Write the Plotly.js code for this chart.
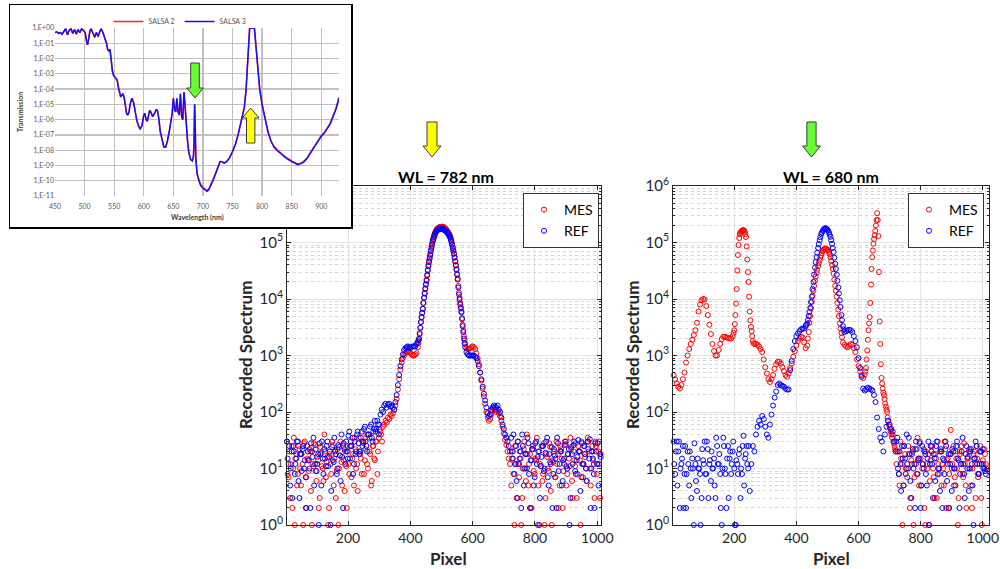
<!DOCTYPE html>
<html><head><meta charset="utf-8">
<script src="https://cdn.plot.ly/plotly-3.0.1.min.js"></script>
<style>html,body{margin:0;padding:0;background:#fff}#chart{width:1000px;height:569px}</style>
</head><body><div id="chart"></div>
<script>
// ---------------- DATA ----------------
// Inset: transmission (log10 of T) vs wavelength (nm)
var wavelength = [450,453,456,459,462,465,468,471,474,477, 480,483,486,489,492,495,498,501,503,505,
 507,509,511,514,517,520,523,526,528,531, 534,537,539,541,543,545,547,549,551,553,
 555,557,559,561,563,565,567,569,571,573, 575,577,580,583,585,588,591,594,597,600,
 602,604,606,608,610,612,615,618,621,623, 625,628,631,634,637,640,643,646,648,650,
 652,654,656,658,660,662,664,666,668,670, 672,674,676,679,682,684,685,686,687,688,
 690,693,696,700,704,707,710,714,718,722, 726,729,732,736,740,745,750,755,760,765,
 770,773,775,777,779,787,789,792,796,800, 805,810,815,820,825,830,835,840,845,850,
 855,860,865,870,875,880,885,890,895,900, 905,910,915,920,925,930];
var salsa3Log10 = [-0.3,-0.25,-0.35,-0.3,-0.4,-0.2,-0.05,-0.45,-0.15,-0.05,
 -0.35,-0.1,-0.4,-0.1,-0.3,-0.05,-0.15,-0.3,-0.8,-1.1,
 -0.7,-0.2,-0.05,-0.4,-0.6,-0.3,-0.55,-0.2,-0.05,-0.3,
 -0.6,-1.0,-1.4,-1.5,-1.4,-2.2,-2.8,-3.1,-3.2,-3.3,
 -3.4,-3.9,-4.3,-4.5,-4.4,-4.3,-4.6,-5.2,-5.6,-5.7,
 -5.5,-5.0,-4.6,-4.9,-5.4,-6.0,-6.4,-6.6,-6.4,-5.7,
 -5.6,-6.0,-6.1,-5.8,-5.4,-5.5,-5.8,-5.6,-5.35,-5.4,
 -5.8,-6.8,-7.4,-7.8,-7.8,-7.4,-6.8,-6.2,-5.6,-4.6,
 -5.3,-5.5,-4.6,-5.5,-5.7,-4.3,-5.8,-6.0,-4.2,-5.2,
 -6.5,-7.4,-8.1,-8.6,-8.7,-8.4,-7.5,-5.0,-6.5,-8.5,
 -9.5,-10.0,-10.3,-10.5,-10.6,-10.7,-10.6,-10.3,-9.9,-9.5,
 -9.0,-8.75,-8.75,-8.85,-8.75,-8.5,-8.1,-7.6,-6.9,-6.1,
 -5.2,-4.0,-2.5,-1.0,0,0,-1.0,-2.5,-4.0,-5.0,
 -6.0,-6.8,-7.4,-7.8,-8.0,-8.2,-8.35,-8.5,-8.65,-8.75,
 -8.85,-8.95,-8.9,-8.8,-8.6,-8.3,-8.0,-7.7,-7.4,-7.1,
 -6.9,-6.6,-6.3,-5.8,-5.3,-4.6];
var salsa2Log10 = [-0.3,-0.25,-0.35,-0.3,-0.4,-0.2,-0.05,-0.45,-0.15,-0.05,
 -0.35,-0.1,-0.4,-0.1,-0.3,-0.05,-0.15,-0.3,-0.8,-1.1,
 -0.7,-0.2,-0.05,-0.4,-0.6,-0.3,-0.55,-0.2,-0.05,-0.3,
 -0.6,-1.0,-1.4,-1.5,-1.4,-2.2,-2.8,-3.1,-3.2,-3.3,
 -3.4,-3.8,-4.3,-4.5,-4.4,-4.3,-4.6,-5.2,-5.6,-5.7,
 -5.5,-5.0,-4.6,-4.9,-5.4,-6.0,-6.4,-6.6,-6.4,-5.7,
 -5.6,-6.0,-6.1,-5.8,-5.4,-5.5,-5.8,-5.6,-5.35,-5.4,
 -5.8,-6.8,-7.4,-7.8,-7.8,-7.4,-6.8,-6.2,-5.6,-4.6,
 -5.3,-5.5,-4.6,-5.5,-5.7,-4.3,-5.8,-6.0,-4.2,-5.2,
 -6.5,-7.4,-8.1,-8.6,-8.7,-8.4,-7.5,-5.0,-6.5,-8.5,
 -9.5,-10.0,-10.25,-10.45,-10.55,-10.65,-10.55,-10.25,-9.85,-9.45,
 -9.0,-8.75,-8.75,-8.85,-8.75,-8.5,-8.1,-7.6,-6.9,-6.1,
 -5.2,-4.0,-2.5,-1.0,0,0,-1.0,-2.5,-4.0,-5.0,
 -6.0,-6.8,-7.4,-7.75,-7.95,-8.15,-8.3,-8.45,-8.6,-8.7,
 -8.8,-8.9,-8.85,-8.75,-8.55,-8.25,-7.95,-7.65,-7.35,-7.05,
 -6.85,-6.55,-6.25,-5.75,-5.25,-4.55];
var insetYTickVals = [1,1e-1,1e-2,1e-3,1e-4,1e-5,1e-6,1e-7,1e-8,1e-9,1e-10,1e-11];
var insetYTickText = ['1,E+00','1,E-01','1,E-02','1,E-03','1,E-04','1,E-05','1,E-06','1,E-07','1,E-08','1,E-09','1,E-10','1,E-11'];
var insetXTickVals = [450,500,550,600,650,700,750,800,850,900];

// WL = 782 nm  (each segment: first pixel, pixel step, counts)
var mes782NoiseLeft = [30,7,3,25,10,1,18,8,22,5,12,28,2,15,9,20,1,11,26,6,14,3,19,10,40,7,16,2,12,30,5,21,9,1,17,13,25,4,11,20,8,30,15,5,22,12,35,18,8,28,14,40,10,20,5,25,15,30,8,35,45,30];
var mes782NoiseLeft2 = [8,20,12,2,35,15,5,25,10,18,1,30,7,14,22,4,12,28,9,16,2,24,11,6,20,13,1,18,8,26,15,3,22,10,30,5,14,20,2,12,25,7,18,35,10,4,20,15,30,8,22,12,40,18,6,25,14,30,20,50,40];
var mes782Peak = [55,60,70,65,80,75,90,85,95,110,
 130,170,250,380,560,750,900,1000,1100,1150,
 1200,1150,1100,1050,1000,1000,1050,1100,1400,2000,
 3100,4700,6700,10500,15500,22000,33000,47000,63000,85000,
 110000,132000,152000,168000,178000,185000,188000,190000,190000,186000,
 178000,168000,156000,143000,128000,105000,82000,64000,47000,34000,
 23000,13000,8500,6000,3500,2200,1600,1350,1300,1300,
 1350,1400,1450,1400,1300,1100,900,700,500,360,
 260,190,140,100,80,70,75,90,105,115,
 110,100,105,95,85,70,55,42,32,26,
 20,15,12];
var mes782PeakMid = [1650,2500,3900,5700,8500,12800,18500,27000,40000,55000,
 74000,97000,121000,142000,160000,173000,182000,187000,189000,190000,
 188000,182000,173000,162000,150000,136000,117000,93000,73000,55000,
 40000,28000,17000,10500,7200,4600,2800,1850];
var mes782NoiseRight = [5,20,1,12,30,7,15,3,22,10,40,5,18,2,25,8,14,1,20,11,6,28,3,16,9,24,1,13,7,30,18,5,22,2,12,27,8,15,35,6,20,11,3,25,14,30,7,18,10,35,20,5,25,12,30,8,20,3,15];
var mes782NoiseRight2 = [15,8,25,3,12,20,1,10,30,6,18,12,2,22,9,15,35,5,12,25,8,1,18,10,28,4,14,20,7,12,2,25,15,9,30,5,18,11,22,3,14,28,8,20,1,12,25,16,6,30,10,20,14,3,25,12,30,18];
var ref782NoiseLeft = [30,12,5,20,25,8,15,30,3,18,22,10,7,25,14,2,20,35,12,9,18,28,5,15,22,11,30,16,1,24,13,20,8,26,17,40,2,22,30,15,45,25,35,12,18,40,28,20,45,30,55,25,40,35,60,30,50,45,70,40];
var ref782NoiseLeft2 = [15,25,10,3,20,12,30,6,18,9,25,14,2,20,10,28,16,5,22,12,1,18,30,8,15,25,11,20,4,14,35,18,10,24,6,16,28,12,20,38,15,25,8,30,20,45,18,35,25,50,30,20,40,55,35,45,70,50,60];
var ref782Peak = [60,90,110,100,130,140,120,135,140,125,
 130,120,110,150,200,300,450,650,850,1050,
 1250,1350,1400,1450,1400,1350,1400,1450,1450,1450,
 1600,1750,1950,3100,4800,6700,10500,15000,21000,32000,
 45000,60000,80000,105000,125000,145000,160000,168000,172000,175000,
 175000,172000,168000,162000,155000,145000,135000,122000,102000,80000,
 63000,46000,33000,22000,12000,8000,5800,3300,2000,1400,
 1150,1050,1000,1000,1000,1000,1000,950,900,800,
 650,500,380,280,210,160,120,95,85,90,
 110,120,130,125,120,130,110,100,80,60,
 50,40,35,30,25,20];
var ref782PeakMid = [1850,2400,3900,5700,8500,12500,18000,26000,38000,52000,
 70000,92000,115000,135000,153000,164000,170000,174000,175000,174000,
 170000,165000,158000,150000,140000,128000,112000,91000,71000,54000,
 39000,27000,16000,9800,6800,4400,2600,1650];
var ref782NoiseRight = [35,15,8,25,3,12,20,40,5,18,10,28,2,14,22,7,30,16,1,11,25,9,19,35,5,13,24,8,17,2,28,12,20,6,15,30,10,22,3,18,26,9,14,32,20,7,12,25,10,30,15,2,20,8,28,12,5,18,10];
var ref782NoiseRight2 = [20,40,12,6,30,15,2,25,10,18,35,8,14,22,5,28,12,20,3,16,25,10,30,7,18,12,2,22,15,35,9,20,5,14,26,11,18,1,24,12,30,8,16,20,4,28,12,18,6,22,33,10,15,2,20,28,12,16];

// WL = 680 nm
var mes680A = [450,380,320,280,260,300,380,500,750,1000,1300,1600,1900,2300,2800,3800,6000,8000,9500,10000,9800,7500,5200,3500,2400,1600,1200,1000,1000,1250,1600,1950,2150,2150,2100,2050,2000,2000,2200];
var mes680B = [2500,2800,3600,5200,8300,15000,32000,60000,90000,120000,140000,150000,155000,158000,162000,165000,165000,162000,155000,140000,125000,85000,50000,30000,20000,11000,6000,4200,3200,2700,2200,1800,1650];
var mes680C = [1600,1600,1550,1450,1300,1150,850,620,480,380,
 340,380,450,580,700,770,780,720,620,530,
 450,420,480,600,720,950,1200,1500,1800,2000,
 2150,2100,1700,1350,1500,2600,5000,9000,14000,21000,
 29000,38000,48000,60000,70000,77000,78000,75000,68000,55000,
 40000,28000,17000,11000,6500,3700,2500,1700,1550,1450,
 1400,1500,1600,1550,1350,1150,850,650,520,450,
 400,460];
var mes680PeakMid = [2000,3800,6800,11500,17000,25000,33000,43000,54000,65000,74000,78000,77000,72000,62000,47000,34000,22000,14000,8500,5000,3000,2100];
var mes680D = [520,600,850,1230,1900,2800,3700,4800,8500,18000,34000,55000,72000,95000,115000,135000,160000,200000,250000,330000,250000,130000,30000,4000,1600,700,400,320,260,220,200,170,140,125,110,100,80,70,60,55,50,45,40,35,40,30,28,25,22,20];
var mes680NoiseRight = [12,20,5,15,1,25,10,7,18,3,12,1,22,8,15,30,5,12,2,20,10,1,14,25,7,18,3,12,20,5,10,30,2,15,8,48,12,5,20,10,3,18,25,7,12,2,15,22,5,10,20,3,15,8,25,1,12,18,10];
var mes680NoiseRight2 = [20,8,30,12,5,18,10,25,2,14,20,7,12,35,5,15,10,22,1,12,18,6,25,10,3,15,30,8,20,12,5,22,14,2,18,10,25,7,15,1,20,12,8,28,5,15,20,10,2,18,12,25,7,20,3,14,22,12];
var ref680NoiseLeft = [30,8,30,20,2,12,25,8,2,20,5,10,15,1,12,4,10,8,3,14,30,8,22,12,6,10,15,3,25,12,8,1,35,10,2,25,15,8,20,10,1,12,18,3,8,38,15,25,10,4];
var ref680NoiseLeft2 = [12,20,5,30,10,15,2,25,8,12,20,3,10,28,6,15,10,1,22,12,8,30,3,14,20,10,5,35,12,18,2,10,25,8,15,3,20,12,30,1,14,8,22,10,25,5,18,12,25];
var ref680Peak = [12,25,20,40,55,70,60,85,75,55,
 40,35,60,90,130,180,230,300,320,300,
 290,280,260,250,250,550,800,1300,1800,2200,
 2450,2700,2900,3000,3000,3300,3700,5000,7000,11000,
 20000,36000,55000,80000,110000,140000,160000,175000,178000,170000,
 150000,126000,95000,68000,42000,27000,16000,9500,5200,3300,
 2600,2700,2800,2850,2800,2600,2200,1800,1400,900,
 600,420,260,240,250,270,260,250,240,200,
 150,80,50,35,30,20,40,55,70,60,
 50,45,30];
var ref680PeakMid = [3500,4200,5900,8800,15000,27000,45000,66000,94000,124000,150000,168000,178000,175000,161000,138000,110000,80000,54000,34000,21000,12500,7200,4200,2900];
var ref680NoiseRight = [20,35,8,12,25,5,15,40,10,18,3,22,12,30,8,15,2,25,10,18,5,30,12,20,3,15,25,8,10,22,2,14,30,6,18,12,4,20,10,25,15,2,12,35,8,18,10,4,20,12,1,15,25,8,12,20,22,10,8];
var ref680NoiseRight2 = [30,10,20,4,15,25,8,12,35,6,18,10,2,22,14,28,5,12,20,8,15,1,25,12,18,6,30,10,4,20,15,8,25,12,2,18,22,10,5,30,14,8,20,12,3,25,16,10,22,5,15,30,12,8,20,12,10,9];

var mainYTickVals = [1,10,100,1000,10000,100000,1000000];
var mainYTickText = ['10<sup>0</sup>','10<sup>1</sup>','10<sup>2</sup>','10<sup>3</sup>','10<sup>4</sup>','10<sup>5</sup>','10<sup>6</sup>'];
var mainXTickVals = [200,400,600,800,1000];

// ---------------- BUILD ----------------
function series(segs){
  var x=[],y=[];
  segs.forEach(function(s){ s[2].forEach(function(v,i){ x.push(s[0]+i*s[1]); y.push(v); }); });
  return {x:x,y:y};
}
var mes782 = series([[4,5,mes782NoiseLeft],[6,5,mes782NoiseLeft2],[312,4,mes782Peak],[426,4,mes782PeakMid],[724,5,mes782NoiseRight],[726,5,mes782NoiseRight2]]);
var ref782 = series([[4,5,ref782NoiseLeft],[6,5,ref782NoiseLeft2],[300,4,ref782Peak],[426,4,ref782PeakMid],[724,5,ref782NoiseRight],[726,5,ref782NoiseRight2]]);
var mes680 = series([[5,5,mes680A],[198,2,mes680B],[265,5,mes680C],[437,5,mes680PeakMid],[622,2,mes680D],[722,5,mes680NoiseRight],[725,5,mes680NoiseRight2]]);
var ref680 = series([[5,5,ref680NoiseLeft],[7,5,ref680NoiseLeft2],[255,5,ref680Peak],[432,5,ref680PeakMid],[720,5,ref680NoiseRight],[722,5,ref680NoiseRight2]]);
function pow10(a){ return a.map(function(v){ return Math.pow(10,v); }); }

var RED='#ff0000', BLUE='#0000ff';
function mk(c){ return {symbol:'circle-open', size:5, color:c, line:{width:1}}; }
var traces = [
  {x:mes782.x, y:mes782.y, type:'scatter', mode:'markers', name:'MES', marker:mk(RED), xaxis:'x', yaxis:'y', legend:'legend', hoverinfo:'skip', cliponaxis:false},
  {x:ref782.x, y:ref782.y, type:'scatter', mode:'markers', name:'REF', marker:mk(BLUE), xaxis:'x', yaxis:'y', legend:'legend', hoverinfo:'skip', cliponaxis:false},
  {x:mes680.x, y:mes680.y, type:'scatter', mode:'markers', name:'MES', marker:mk(RED), xaxis:'x2', yaxis:'y2', legend:'legend2', hoverinfo:'skip', cliponaxis:false},
  {x:ref680.x, y:ref680.y, type:'scatter', mode:'markers', name:'REF', marker:mk(BLUE), xaxis:'x2', yaxis:'y2', legend:'legend2', hoverinfo:'skip', cliponaxis:false},
  {x:[0.5], y:[0.5], type:'scatter', mode:'markers', marker:{opacity:0}, xaxis:'x3', yaxis:'y3', showlegend:false, hoverinfo:'skip'},
  {x:wavelength, y:pow10(salsa2Log10), type:'scatter', mode:'lines', name:'SALSA 2', line:{color:'#ff2020', width:1.6}, xaxis:'x4', yaxis:'y4', legend:'legend3', hoverinfo:'skip'},
  {x:wavelength, y:pow10(salsa3Log10), type:'scatter', mode:'lines', name:'SALSA 3', line:{color:'#1010ff', width:1.4}, xaxis:'x4', yaxis:'y4', legend:'legend3', hoverinfo:'skip'}
];

var W=1000,H=569;
function px(x){return x/W;} function py(y){return 1-y/H;}
var FONT='Lato, "Open Sans", sans-serif';
var TXT='#262626';
var minorVals=[]; for(var e=0;e<6;e++){ for(var d=2;d<=9;d++){ minorVals.push(d*Math.pow(10,e)); } }

function mainX(dom, rng, anchor){
  return {domain:dom, range:rng, anchor:anchor, tickmode:'array', tickvals:mainXTickVals,
    tickfont:{family:FONT,size:14,color:TXT}, showgrid:true, gridcolor:'#e4e4e4', gridwidth:1,
    showline:true, mirror:'ticks', linecolor:TXT, linewidth:1, ticks:'inside', ticklen:4, tickcolor:TXT,
    zeroline:false, fixedrange:true};
}
function mainY(anchor){
  return {domain:[py(525),py(186)], type:'log', range:[0,6], anchor:anchor, tickmode:'array',
    tickvals:mainYTickVals, ticktext:mainYTickText, tickfont:{family:FONT,size:15,color:TXT},
    showgrid:true, gridcolor:'#e4e4e4', gridwidth:1,
    minor:{tickmode:'array', tickvals:minorVals, showgrid:true, gridcolor:'#d6d6d6', griddash:'dot', gridwidth:1, ticks:'inside', ticklen:2, tickcolor:TXT},
    showline:true, mirror:'ticks', linecolor:TXT, linewidth:1, ticks:'inside', ticklen:4, tickcolor:TXT,
    zeroline:false, fixedrange:true};
}

function arrow(cx, tailY, tipY, sh, hh, hl){
  var dir = tipY>tailY?1:-1; var by = tipY-dir*hl;
  var pts=[[cx-sh,tailY],[cx+sh,tailY],[cx+sh,by],[cx+hh,by],[cx,tipY],[cx-hh,by],[cx-sh,by]];
  return 'M'+pts.map(function(p){return px(p[0]).toFixed(5)+','+py(p[1]).toFixed(5);}).join('L')+'Z';
}
function arrowShape(path, color){
  return {type:'path', xref:'paper', yref:'paper', path:path, fillcolor:color, line:{color:'#3c3c3c', width:1}, layer:'above'};
}
function ann(text,x,y,size,opts){
  var a={text:text, x:px(x), y:py(y), xref:'paper', yref:'paper', showarrow:false, xanchor:'center', yanchor:'middle',
    font:{family:FONT,size:size,color:'#000'}};
  for(var k in (opts||{})) a[k]=opts[k];
  return a;
}

var layout = {
  width:W, height:H, margin:{l:0,r:0,t:0,b:0}, autosize:false,
  paper_bgcolor:'#ffffff', plot_bgcolor:'#ffffff',
  font:{family:FONT},
  xaxis: mainX([px(287),px(601)],[4,1012],'y'),
  yaxis: mainY('x'),
  xaxis2: mainX([px(673),px(989)],[3,1020],'y2'),
  yaxis2: mainY('x2'),
  xaxis3: {domain:[px(10),px(351)], range:[0,1], anchor:'y3', showline:true, mirror:true, linecolor:'#000', linewidth:1.5, showgrid:false, zeroline:false, showticklabels:false, ticks:'', fixedrange:true},
  yaxis3: {domain:[py(227),py(5)], range:[0,1], anchor:'x3', showline:true, mirror:true, linecolor:'#000', linewidth:1.5, showgrid:false, zeroline:false, showticklabels:false, ticks:'', fixedrange:true},
  xaxis4: {domain:[px(55),px(339)], range:[450,930], anchor:'y4', tickmode:'array', tickvals:insetXTickVals,
    tickfont:{family:FONT,size:7,color:'#595959'}, ticklabelstandoff:5, showgrid:true, gridcolor:'#c0c0c0', gridwidth:1.3, zeroline:false, showline:false, ticks:'', fixedrange:true},
  yaxis4: {domain:[py(196),py(28)], type:'log', range:[-11,0], anchor:'x4', tickmode:'array', tickvals:insetYTickVals, ticktext:insetYTickText,
    tickfont:{family:FONT,size:7,color:'#595959'}, showgrid:true, gridcolor:'#c0c0c0', gridwidth:1.3, zeroline:false, showline:false, ticks:'', fixedrange:true},
  legend: {x:px(599), xanchor:'right', y:py(193), yanchor:'top', bgcolor:'#ffffff', bordercolor:'#333333', borderwidth:1,
    font:{family:FONT,size:14,color:'#000'}, tracegroupgap:0, itemwidth:30},
  legend2: {x:px(984), xanchor:'right', y:py(193), yanchor:'top', bgcolor:'#ffffff', bordercolor:'#333333', borderwidth:1,
    font:{family:FONT,size:14,color:'#000'}, tracegroupgap:0, itemwidth:30},
  legend3: {x:px(180), xanchor:'center', y:py(7), yanchor:'top', orientation:'h', bgcolor:'rgba(0,0,0,0)', borderwidth:0,
    font:{family:FONT,size:7,color:'#595959'}},
  annotations: [
    ann('<b>WL = 782 nm</b>',446,176,16),
    ann('<b>WL = 680 nm</b>',831,176,16),
    ann('<b>Recorded Spectrum</b>',245,355,17,{textangle:-90, font:{family:FONT,size:17,color:TXT}}),
    ann('<b>Recorded Spectrum</b>',632,355,17,{textangle:-90, font:{family:FONT,size:17,color:TXT}}),
    ann('<b>Pixel</b>',448,558,17,{font:{family:FONT,size:17,color:TXT}}),
    ann('<b>Pixel</b>',831,558,17,{font:{family:FONT,size:17,color:TXT}}),
    ann('<b>Transmission</b>',20,112,7,{textangle:-90, font:{family:FONT,size:7,color:'#404040'}}),
    ann('<b>Wavelength (nm)</b>',197,217,7,{font:{family:FONT,size:7,color:'#404040'}})
  ],
  shapes: [
    arrowShape(arrow(432,122,157,5,9,11),'#ffff00'),
    arrowShape(arrow(811.5,122,157,4.6,9,11),'#66ff33'),
    arrowShape(arrow(195,63,98,4.3,8.3,10),'#66ff33'),
    arrowShape(arrow(250.7,143,108,4.2,8.4,10),'#ffff00')
  ]
};

Plotly.newPlot('chart', traces, layout, {displayModeBar:false, staticPlot:true});
</script>
</body></html>
